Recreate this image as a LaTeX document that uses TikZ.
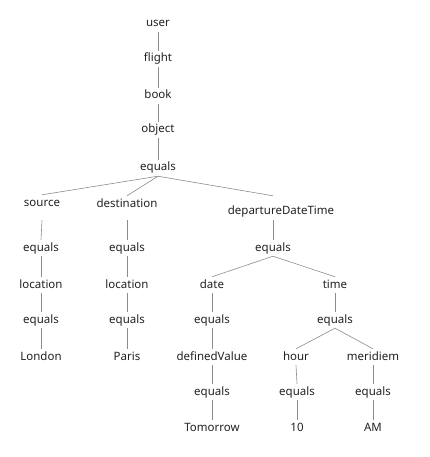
\documentclass[tikz,border=0pt]{standalone}
\usepackage{fontspec}
\setmainfont{Noto Sans}
\definecolor{edgecol}{HTML}{8C8C8C}
\definecolor{txtcol}{HTML}{222222}
\begin{document}
\begin{tikzpicture}[x=1pt,y=-1pt,
  lbl/.style={anchor=base,inner xsep=0pt,inner ysep=3pt,text height=8pt,text depth=2pt,
    font=\fontsize{11.5}{13}\selectfont,text=txtcol},
  edge/.style={draw=edgecol,line width=0.6pt}]
\useasboundingbox (0,0) rectangle (429,457);
% spine
\node[lbl] (user) at (158,27) {user};
\node[lbl] (flight) at (158,62) {flight};
\node[lbl] (book) at (158,99) {book};
\node[lbl] (object) at (158,133) {object};
\node[lbl] (eqA) at (158,171) {equals};
% row 1
\node[lbl,text depth=11pt] (source) at (42,206) {source};
\node[lbl,text depth=10pt] (dest) at (127,207) {destination};
\node[lbl,text height=15pt,text depth=3pt] (ddt) at (281,214) {departureDateTime};
% row 2
\node[lbl] (eqS) at (41,251) {equals};
\node[lbl] (eqD) at (127,251) {equals};
\node[lbl] (eqT) at (273,251) {equals};
% row 3
\node[lbl] (locS) at (41,288) {location};
\node[lbl] (locD) at (127,288) {location};
\node[lbl] (date) at (212,288) {date};
\node[lbl] (time) at (335,288) {time};
% row 4
\node[lbl] (eqS2) at (41,323) {equals};
\node[lbl] (eqD2) at (127,323) {equals};
\node[lbl] (eqDa) at (212,323) {equals};
\node[lbl] (eqTi) at (335,323) {equals};
% row 5
\node[lbl] (london) at (41,360) {London};
\node[lbl] (paris) at (127,360) {Paris};
\node[lbl] (defv) at (212,360) {definedValue};
\node[lbl] (hour) at (296,360) {hour};
\node[lbl] (merid) at (373,360) {meridiem};
% row 6
\node[lbl] (eqDv) at (212,395) {equals};
\node[lbl] (eqH) at (297,395) {equals};
\node[lbl] (eqM) at (373,395) {equals};
% row 7
\node[lbl] (tomorrow) at (212,431) {Tomorrow};
\node[lbl] (ten) at (297,431) {10};
\node[lbl] (am) at (373,431) {AM};
% edges
\draw[edge] (user.south) -- (flight.north);
\draw[edge] (flight.south) -- (book.north);
\draw[edge] (book.south) -- (object.north);
\draw[edge] (object.south) -- (eqA.north);
\draw[edge] (eqA.south) -- (source.north);
\draw[edge] (eqA.south) -- (dest.north);
\draw[edge] (eqA.south) -- ([xshift=-8pt]ddt.north);
\draw[edge] (source.south) -- (eqS.north);
\draw[edge] (dest.south) -- (eqD.north);
\draw[edge] ([xshift=-8pt]ddt.south) -- (eqT.north);
\draw[edge] (eqS.south) -- (locS.north);
\draw[edge] (eqD.south) -- (locD.north);
\draw[edge] (eqT.south) -- (date.north);
\draw[edge] (eqT.south) -- (time.north);
\draw[edge] (locS.south) -- (eqS2.north);
\draw[edge] (locD.south) -- (eqD2.north);
\draw[edge] (date.south) -- (eqDa.north);
\draw[edge] (time.south) -- (eqTi.north);
\draw[edge] (eqS2.south) -- (london.north);
\draw[edge] (eqD2.south) -- (paris.north);
\draw[edge] (eqDa.south) -- (defv.north);
\draw[edge] (eqTi.south) -- (hour.north);
\draw[edge] (eqTi.south) -- (merid.north);
\draw[edge] (defv.south) -- (eqDv.north);
\draw[edge] (hour.south) -- (eqH.north);
\draw[edge] (merid.south) -- (eqM.north);
\draw[edge] (eqDv.south) -- (tomorrow.north);
\draw[edge] (eqH.south) -- (ten.north);
\draw[edge] (eqM.south) -- (am.north);
\end{tikzpicture}
\end{document}
